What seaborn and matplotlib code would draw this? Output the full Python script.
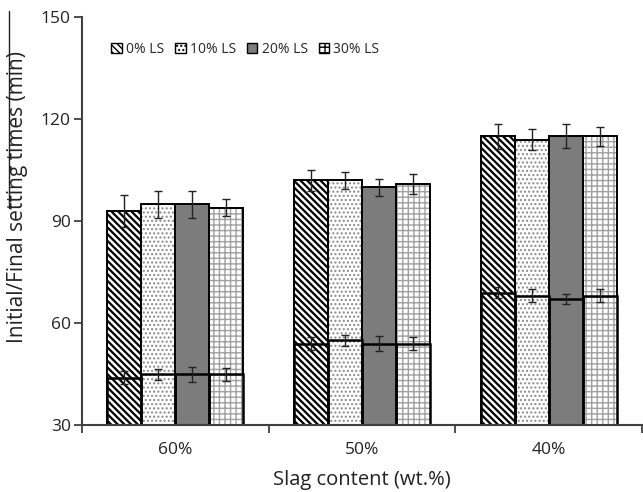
import matplotlib
matplotlib.use("Agg")
import matplotlib.pyplot as plt
import matplotlib.patches as mpatches
from matplotlib.lines import Line2D
import seaborn as sns
import pandas as pd
import numpy as np

# ---- data ----
slag = ["60%", "50%", "40%"]
ls_levels = ["0% LS", "10% LS", "20% LS", "30% LS"]

final_0 = [93, 102, 115]
final_10 = [95, 102, 114]
final_20 = [95, 100, 115]
final_30 = [94, 101, 115]

initial_0 = [44, 54, 69]
initial_10 = [45, 55, 68]
initial_20 = [45, 54, 67]
initial_30 = [45, 54, 68]

final_err_0 = [4.7, 3.0, 3.7]
final_err_10 = [4.0, 2.5, 3.1]
final_err_20 = [4.0, 2.5, 3.5]
final_err_30 = [2.5, 3.0, 2.8]

initial_err_0 = [2.0, 1.9, 1.5]
initial_err_10 = [1.6, 1.6, 1.9]
initial_err_20 = [2.2, 2.1, 1.5]
initial_err_30 = [1.9, 2.0, 1.9]

yticks = [30, 60, 90, 120, 150]

finals = [final_0, final_10, final_20, final_30]
initials = [initial_0, initial_10, initial_20, initial_30]
final_errs = [final_err_0, final_err_10, final_err_20, final_err_30]
initial_errs = [initial_err_0, initial_err_10, initial_err_20, initial_err_30]

rows = []
for li, lv in enumerate(ls_levels):
    for si, s in enumerate(slag):
        rows.append({"slag": s, "ls": lv, "final": finals[li][si],
                     "initial": initials[li][si]})
df = pd.DataFrame(rows)

# ---- style ----
sns.set_style("white")
plt.rcParams["font.family"] = ["Open Sans", "DejaVu Sans"]
plt.rcParams["hatch.linewidth"] = 1.0

face = {"0% LS": "white", "10% LS": "white", "20% LS": "#7c7c7c", "30% LS": "white"}
hatches = {"0% LS": "\\\\\\\\\\", "10% LS": "....", "20% LS": "", "30% LS": "+++"}
hcolor = {"0% LS": "black", "10% LS": "#8a8a8a", "20% LS": "#7c7c7c", "30% LS": "#a0a0a0"}
hlw = {"0% LS": 1.6, "10% LS": 1.0, "20% LS": 1.0, "30% LS": 1.0}

fig = plt.figure(figsize=(6.43, 4.92), dpi=100)
ax = fig.add_axes([0.1275, 0.136, 0.871, 0.829])

W = 0.73

def draw(col, outline_lw):
    n0 = len(ax.containers)
    sns.barplot(data=df, x="slag", y=col, hue="ls", order=slag,
                hue_order=ls_levels, palette=face, width=W, gap=0,
                errorbar=None, legend=False, ax=ax, linewidth=0)
    for li, lv in enumerate(ls_levels):
        for p in ax.containers[n0 + li]:
            p.set_hatch(hatches[lv])
            p.set_edgecolor(hcolor[lv])
            p.set_linewidth(0)
            if hasattr(p, "set_hatch_linewidth"):
                p.set_hatch_linewidth(hlw[lv])
    n1 = len(ax.containers)
    sns.barplot(data=df, x="slag", y=col, hue="ls", order=slag,
                hue_order=ls_levels, fill=False, width=W, gap=0,
                errorbar=None, legend=False, ax=ax)
    for li in range(len(ls_levels)):
        for p in ax.containers[n1 + li]:
            p.set_edgecolor("black")
            p.set_facecolor("none")
            p.set_linewidth(outline_lw)
    return n0

nf = draw("final", 1.4)
ni = draw("initial", 1.8)

# error bars from the bar geometry
for base, errs in ((nf, final_errs), (ni, initial_errs)):
    for li in range(len(ls_levels)):
        bars = ax.containers[base + li]
        xs = [b.get_x() + b.get_width() / 2 for b in bars]
        ys = [b.get_height() for b in bars]
        ax.errorbar(xs, ys, yerr=errs[li], fmt="none", ecolor="#222222",
                    elinewidth=1.0, capsize=3.2, capthick=1.0, zorder=10)

# axes
ax.set_ylim(30, 150)
ax.set_yticks(yticks)
ax.set_xlim(-0.5, 2.5)
ax.set_xticks(range(len(slag)))
ax.set_xticklabels(slag)
ax.set_xticks([-0.5, 0.5, 1.5, 2.5], minor=True)
ax.tick_params(axis="x", which="major", length=0, pad=12, labelsize=12.5, colors="#222222")
ax.tick_params(axis="x", which="minor", length=6, width=1.3, direction="out", color="#404040")
ax.tick_params(axis="y", length=6, width=1.3, direction="out", color="#404040",
               labelsize=12.5, labelcolor="#222222", pad=2)
ax.yaxis.set_ticks_position("left")
ax.xaxis.set_ticks_position("bottom")
for s in ("top", "right"):
    ax.spines[s].set_visible(False)
for s in ("left", "bottom"):
    ax.spines[s].set_color("#404040")
    ax.spines[s].set_linewidth(1.5)

ax.set_xlabel("Slag content (wt.%)", fontsize=14.5, color="#222222", labelpad=9)
ylab = ax.set_ylabel("Initial/Final setting times (min)", fontsize=15, color="#222222")

# place the y label: bottom of text at y=343 px (top-down), right edge at x=28 px
H = 492.0
r = fig.canvas.get_renderer()
ax.yaxis.set_label_coords(-0.1, 0.6)
bb = ylab.get_window_extent(r)
inv = ax.transAxes.inverted()
dx = 28.0 - bb.x1
dy = (H - 343.0) - bb.y0
p0 = ax.transAxes.transform((-0.1, 0.6))
ax.yaxis.set_label_coords(*inv.transform((p0[0] + dx, p0[1] + dy)))

# overline artifact above part of the y label
fig.add_artist(Line2D([9 / 643, 9 / 643], [1 - 11 / H, 1 - 208 / H],
                      transform=fig.transFigure, color="#222222", lw=1.0))

# legend
handles = [mpatches.Patch(facecolor=face[lv], hatch=hatches[lv],
                          edgecolor="black", linewidth=1.0, label=lv)
           for lv in ls_levels]
ax.legend(handles=handles, loc="upper left", ncol=4, frameon=False,
          fontsize=10, handlelength=0.75, handleheight=0.75,
          handletextpad=0.3, columnspacing=0.8, bbox_to_anchor=(0.03, 0.97))

fig.savefig("out.png", dpi=100)
